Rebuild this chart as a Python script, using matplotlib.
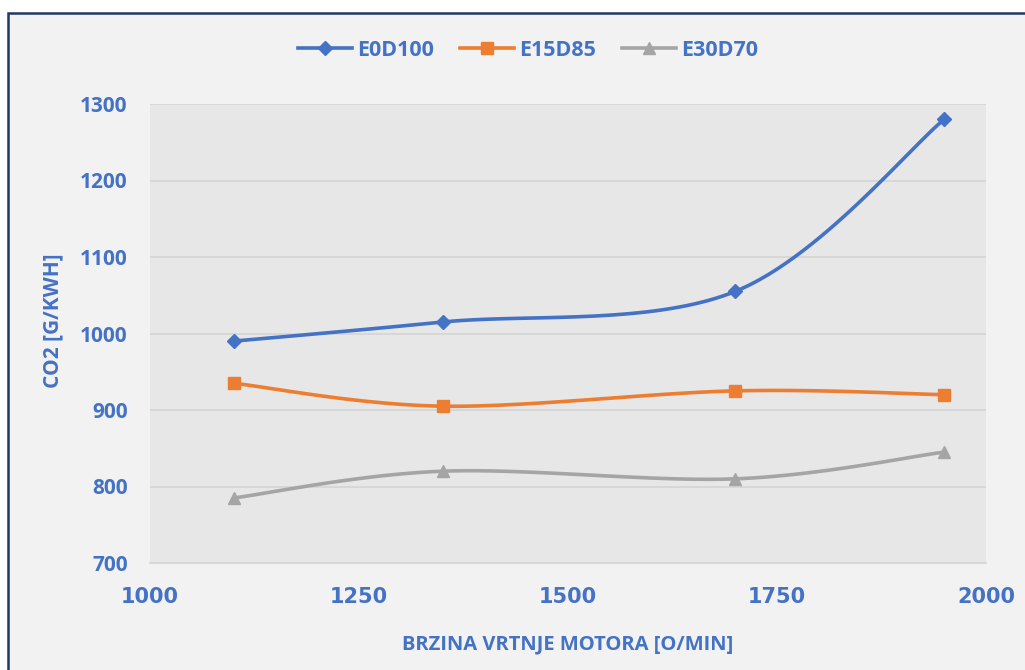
import numpy as np
import matplotlib
matplotlib.use("Agg")
import matplotlib.pyplot as plt
from matplotlib.patches import Rectangle

# podaci
brzina = [1100, 1350, 1700, 1950]
e0d100 = [990, 1015, 1055, 1280]
e15d85 = [935, 905, 925, 920]
e30d70 = [785, 820, 810, 845]

serije = [
    ("E0D100", e0d100, "#4472c4", "D", 7),
    ("E15D85", e15d85, "#ed7d31", "s", 8.5),
    ("E30D70", e30d70, "#a5a5a5", "^", 9),
]

tekst = "#4472c4"


def glatko(x, y, n=40):
    """Catmull-Rom kao Excelova 'smoothed line'."""
    x = np.asarray(x, float)
    y = np.asarray(y, float)
    px = np.concatenate([[x[0]], x, [x[-1]]])
    py = np.concatenate([[y[0]], y, [y[-1]]])
    xs, ys = [], []
    t = np.linspace(0, 1, n)
    for i in range(1, len(px) - 2):
        p0 = np.array([px[i], py[i]])
        p3 = np.array([px[i + 1], py[i + 1]])
        c1 = p0 + (np.array([px[i + 1], py[i + 1]]) - np.array([px[i - 1], py[i - 1]])) / 6
        c2 = p3 - (np.array([px[i + 2], py[i + 2]]) - np.array([px[i], py[i]])) / 6
        b = ((1 - t) ** 3)[:, None] * p0 + (3 * (1 - t) ** 2 * t)[:, None] * c1 \
            + (3 * (1 - t) * t ** 2)[:, None] * c2 + (t ** 3)[:, None] * p3
        xs.append(b[:, 0])
        ys.append(b[:, 1])
    return np.concatenate(xs), np.concatenate(ys)


fig = plt.figure(figsize=(10.25, 6.7), dpi=100, facecolor="white")
fig.patches.append(Rectangle((8 / 1025, -0.1), 1.2, 1 - 13 / 670 + 0.1,
                             transform=fig.transFigure, facecolor="#f2f2f2",
                             edgecolor="#1f3864", linewidth=1.8, zorder=-5))

ax = fig.add_axes([150 / 1025, 1 - 563 / 670, (986 - 150) / 1025, (563 - 104) / 670])
ax.set_facecolor("#e7e7e7")

for ime, vals, boja, mk, ms in serije:
    gx, gy = glatko(brzina, vals)
    ax.plot(gx, gy, color=boja, linewidth=2.6, solid_capstyle="round", zorder=3)
    ax.plot(brzina, vals, linestyle="none", marker=mk, markersize=ms, color=boja, zorder=4)
    ax.plot([], [], color=boja, linewidth=2.6, marker=mk, markersize=ms, label=ime)

ax.set_xlim(1000, 2000)
ax.set_ylim(700, 1300)
ax.set_xticks([1000, 1250, 1500, 1750, 2000])
ax.set_yticks(range(700, 1301, 100))
ax.grid(axis="y", color="#d6d6d6", linewidth=1.3)
ax.set_axisbelow(True)
for s in ["left", "right", "top"]:
    ax.spines[s].set_visible(False)
ax.spines["bottom"].set_color("#d6d6d6")
ax.spines["bottom"].set_linewidth(1.3)
ax.tick_params(length=0)
ax.tick_params(axis="y", pad=16)
ax.tick_params(axis="x", pad=17)

for lbl in ax.get_yticklabels():
    lbl.set_fontfamily("Open Sans")
    lbl.set_fontweight("bold")
    lbl.set_fontsize(15)
    lbl.set_color(tekst)
for lbl in ax.get_xticklabels():
    lbl.set_fontfamily("DejaVu Sans")
    lbl.set_fontweight("bold")
    lbl.set_fontsize(15)
    lbl.set_color(tekst)

ax.set_ylabel("CO2 [G/KWH]", fontsize=15, fontweight="bold", color=tekst,
              family="Open Sans")
ax.yaxis.set_label_coords(-0.104, 0.529)
ax.set_xlabel("BRZINA VRTNJE MOTORA [O/MIN]", fontsize=14.5, fontweight="bold",
              color=tekst, family="Open Sans", labelpad=20)

leg = fig.legend(loc="center", bbox_to_anchor=(0.515, 1 - 50 / 670), ncol=3, frameon=False,
                 prop={"family": "Open Sans", "weight": "bold", "size": 15.5},
                 handlelength=2.5, columnspacing=1.2, handletextpad=0.25)
for t in leg.get_texts():
    t.set_color(tekst)

fig.savefig("out.png", dpi=100, facecolor=fig.get_facecolor())
